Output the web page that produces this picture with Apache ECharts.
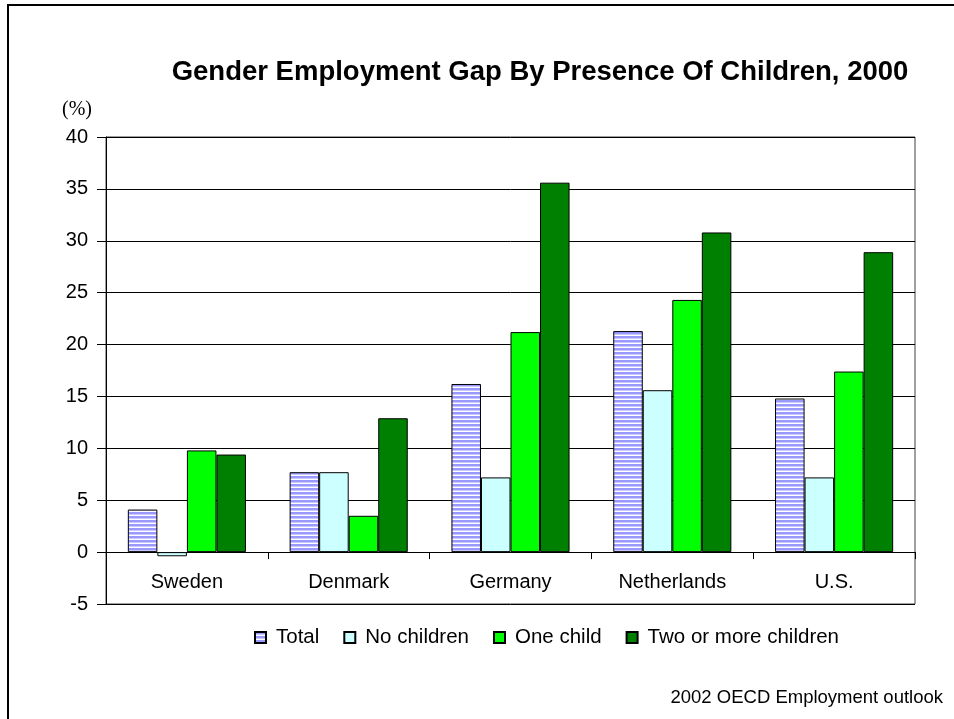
<!DOCTYPE html>
<html>
<head>
<meta charset="utf-8">
<script src="https://cdn.jsdelivr.net/npm/echarts@6/dist/echarts.min.js"></script>
<style>
html,body{margin:0;padding:0;background:#fff;}
#chart{width:954px;height:719px;}
</style>
</head>
<body>
<div id="chart"></div>
<script>
const categories = ['Sweden', 'Denmark', 'Germany', 'Netherlands', 'U.S.'];
const seriesNames = ['Total', 'No children', 'One child', 'Two or more children'];
const totalValues = [4.1, 7.7, 16.2, 21.3, 14.8];
const noChildrenValues = [-0.4, 7.7, 7.2, 15.6, 7.2];
const oneChildValues = [9.8, 3.5, 21.2, 24.3, 17.4];
const twoPlusValues = [9.4, 12.9, 35.6, 30.8, 28.9];
const yTicks = [-5, 0, 5, 10, 15, 20, 25, 30, 35, 40];
const titleText = 'Gender Employment Gap By Presence Of Children, 2000';
const unitText = '(%)';
const sourceText = '2002 OECD Employment outlook';

// striped pattern for "Total"
const pat = document.createElement('canvas');
pat.width = 4; pat.height = 4;
const pctx = pat.getContext('2d');
pctx.fillStyle = '#ffffff'; pctx.fillRect(0, 0, 4, 4);
pctx.fillStyle = '#9999ff'; pctx.fillRect(0, 0, 4, 2);
pctx.fillStyle = '#c8c8ff'; pctx.fillRect(0, 2, 4, 1);

const colors = [
  { image: pat, repeat: 'repeat' },
  '#ccffff',
  '#00ff00',
  '#008000'
];
const valueSets = [totalValues, noChildrenValues, oneChildValues, twoPlusValues];

const chart = echarts.init(document.getElementById('chart'), null, { renderer: 'canvas' });
const font = 'Liberation Sans, Arial, sans-serif';

const series = seriesNames.map((name, i) => ({
  name: name,
  type: 'bar',
  data: valueSets[i],
  barGap: '0%',
  barCategoryGap: '27%',
  itemStyle: { color: colors[i], borderColor: '#000', borderWidth: 1 },
  emphasis: { disabled: true },
  animation: false
}));

chart.setOption({
  animation: false,
  backgroundColor: '#fff',
  title: {
    text: titleText,
    left: 535, top: 53,
    textAlign: 'center',
    textStyle: { fontFamily: font, fontWeight: 'bold', fontSize: 27.5, color: '#000' }
  },
  legend: {
    data: seriesNames,
    left: 249, top: 622,
    itemWidth: 11, itemHeight: 11,
    itemGap: 24,
    icon: 'rect',
    textStyle: { fontFamily: font, fontSize: 20.5, color: '#000', padding: [0, 0, 0, 5] }
  },
  grid: {
    left: 106, right: 39, top: 137, bottom: 115,
    show: true, borderColor: '#404040', borderWidth: 1, backgroundColor: '#fff'
  },
  xAxis: {
    type: 'category',
    data: categories,
    axisLine: { onZero: true, lineStyle: { color: '#000', width: 1 } },
    axisTick: { show: true, length: 7, lineStyle: { color: '#000' } },
    axisLabel: { fontFamily: font, fontSize: 20, color: '#000', margin: -32 },
    splitLine: { show: false }
  },
  yAxis: {
    type: 'value',
    min: yTicks[0], max: yTicks[yTicks.length - 1], interval: 5,
    axisLine: { show: true, lineStyle: { color: '#000', width: 1 } },
    axisTick: { show: true, length: 9, lineStyle: { color: '#000' } },
    axisLabel: { fontFamily: font, fontSize: 20, color: '#000', margin: 18 },
    splitLine: { show: true, lineStyle: { color: '#000', width: 1 } }
  },
  series: series,
  graphic: [
    { type: 'rect', shape: { x: 7, y: 4, width: 2, height: 715 }, style: { fill: '#000' }, silent: true },
    { type: 'rect', shape: { x: 7, y: 4, width: 947, height: 2 }, style: { fill: '#000' }, silent: true },
    { type: 'text', left: 62, top: 100, style: { text: unitText, font: '20px "Liberation Serif", "Times New Roman", serif', fill: '#000' } },
    { type: 'text', right: 11, top: 688, style: { text: sourceText, font: '18.5px "Liberation Sans", Arial, sans-serif', fill: '#000' } }
  ]
});
</script>
</body>
</html>
